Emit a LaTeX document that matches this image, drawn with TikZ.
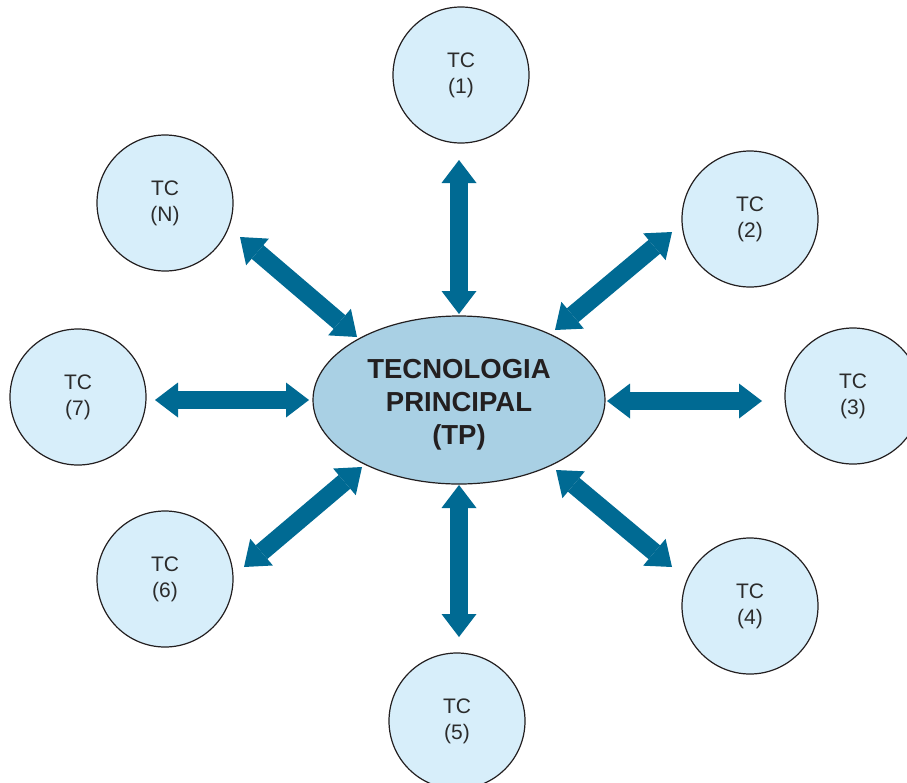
\documentclass[tikz,border=0pt]{standalone}
\usepackage{fontspec}
\setmainfont{Liberation Sans}
\usetikzlibrary{arrows.meta,shapes.geometric}
\definecolor{linkblue}{HTML}{006A93}
\definecolor{tcfill}{HTML}{D7EEFA}
\definecolor{tpfill}{HTML}{A9D0E4}
\definecolor{edgeink}{HTML}{231F20}
\definecolor{textgray}{HTML}{2B2B2B}
\begin{document}
\begin{tikzpicture}[x=1pt,y=-1pt,
  tc/.style={circle, draw=edgeink, line width=1.2pt, fill=tcfill,
    minimum size=136pt, inner sep=0pt, align=center, text=textgray,
    font=\fontsize{21}{26}\selectfont},
  tp/.style={ellipse, draw=edgeink, line width=1.2pt, fill=tpfill,
    minimum width=292pt, minimum height=168pt, inner sep=0pt},
  tptext/.style={align=center, text=edgeink, inner sep=0pt,
    font=\fontsize{27.5}{33}\selectfont\bfseries},
  link/.style={draw=linkblue, line width=18pt,
    {Triangle[width=35pt,length=23pt,line width=0pt]}-{Triangle[width=35pt,length=23pt,line width=0pt]}}]

\fill[white] (0,0) rectangle (907,782);
\useasboundingbox (0,0) rectangle (907,782);
\clip (0,0) rectangle (907,782);

% central technology
\node[tp, label={[tptext, yshift=-5pt]center:{TECNOLOGIA\\PRINCIPAL\\(TP)}}] (tp) at (459,400) {};

% complementary technologies
\node[tc] (tc1) at (461,75)  {TC\\(1)};
\node[tc] (tc2) at (750,219) {TC\\(2)};
\node[tc] (tc3) at (853,396) {TC\\(3)};
\node[tc] (tc4) at (750,606) {TC\\(4)};
\node[tc] (tc5) at (457,721) {TC\\(5)};
\node[tc] (tc6) at (165,579) {TC\\(6)};
\node[tc] (tc7) at (78,397)  {TC\\(7)};
\node[tc] (tcN) at (165,203) {TC\\(N)};

% arrow end points
\coordinate (e1a) at (459,160); \coordinate (e1b) at (459,314);
\coordinate (e2a) at (672,232); \coordinate (e2b) at (555,330);
\coordinate (e3a) at (762,401); \coordinate (e3b) at (607,401);
\coordinate (e4a) at (672,567); \coordinate (e4b) at (556,470);
\coordinate (e5a) at (459,637); \coordinate (e5b) at (459,485);
\coordinate (e6a) at (244,567); \coordinate (e6b) at (362,467);
\coordinate (e7a) at (155,400); \coordinate (e7b) at (309,400);
\coordinate (eNa) at (240,237); \coordinate (eNb) at (357,337);

% two-way links
\foreach \k in {1,2,3,4,5,6,7,N}
  \draw[link] (e\k a) -- (e\k b);
\end{tikzpicture}
\end{document}
